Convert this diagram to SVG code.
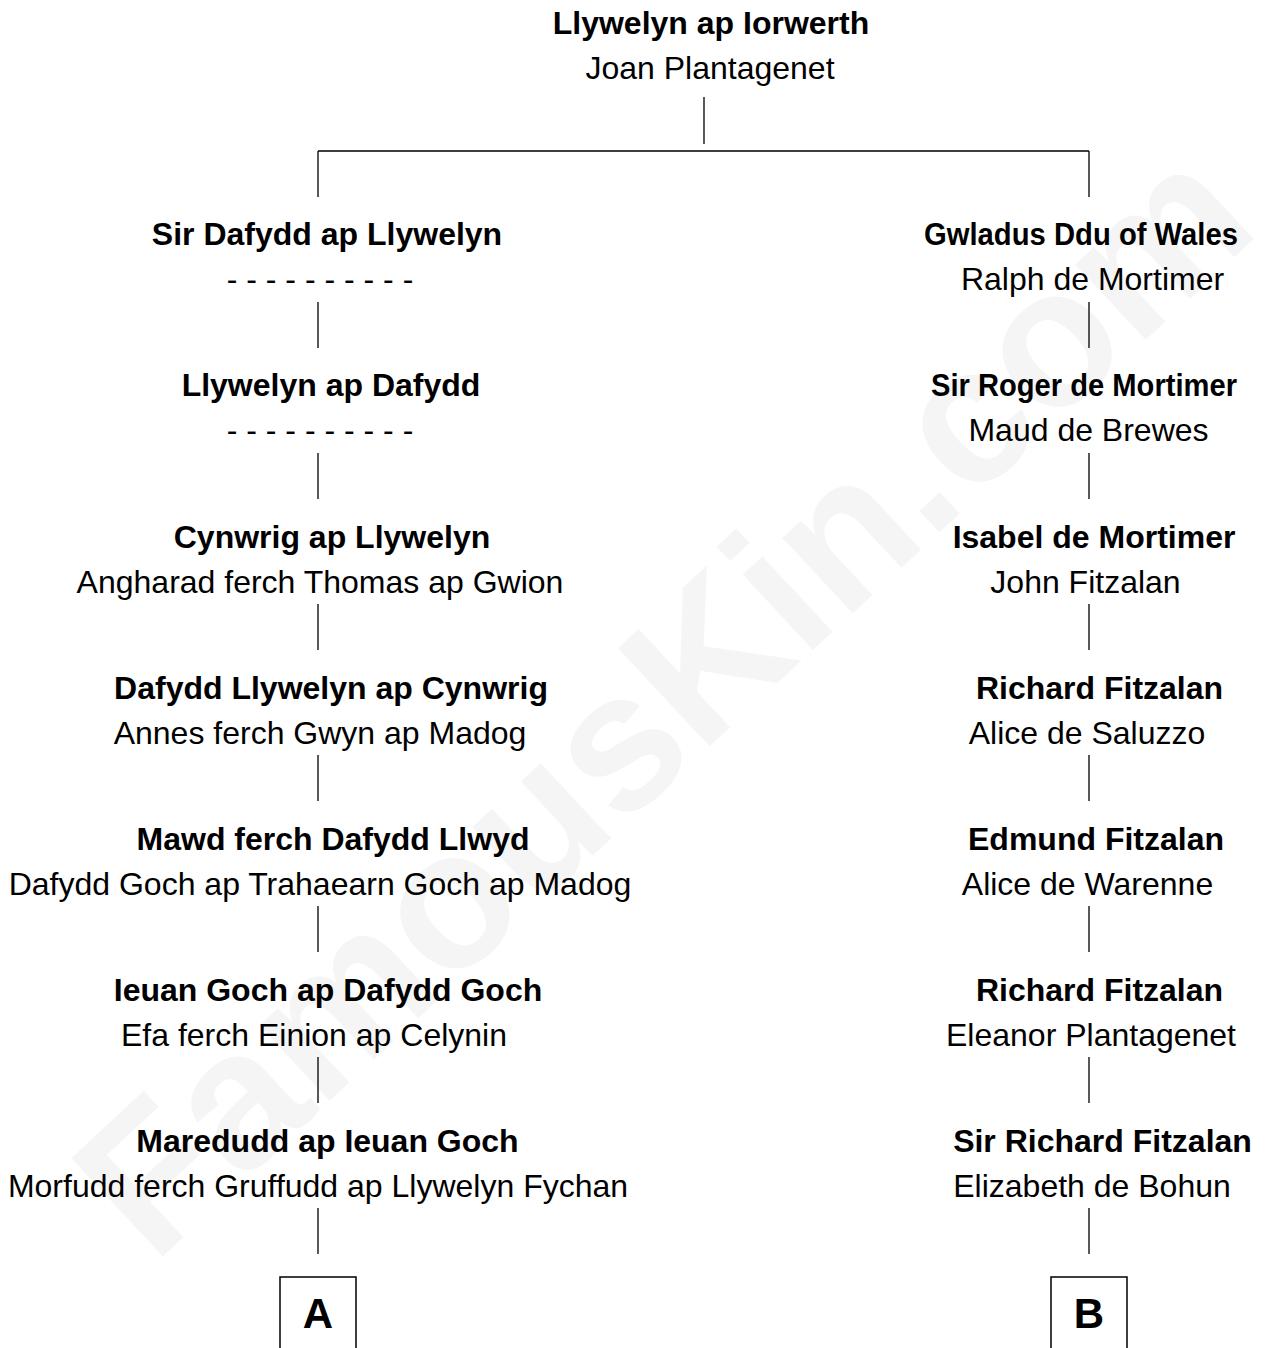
<svg xmlns="http://www.w3.org/2000/svg" width="1271" height="1348" viewBox="0 0 1271 1348">
<style>
text{font-family:"Liberation Sans",Arial,sans-serif;font-size:32px;fill:#000;text-anchor:middle}
.b{font-weight:bold}
.wm{font-weight:bold;font-size:195px;fill:#f5f5f5}
.ln{stroke:#000;stroke-width:1.3;fill:none}
.box{stroke:#000;stroke-width:1.5;fill:none}
.big{font-weight:bold;font-size:42px}
</style>
<rect width="1271" height="1348" fill="#fff"/>
<text class="wm" transform="translate(708,748) rotate(-43)" x="0" y="0">FamousKin.com</text>
<g id="connectors">
<path class="ln" d="M704,97V144M318,151H1089M318,151V197M1089,151V197"/>
<path class="ln" d="M318,302V348M318,453V499M318,604V650M318,755V801M318,906V952M318,1057V1103M318,1208V1254"/>
<path class="ln" d="M1089,302V348M1089,453V499M1089,604V650M1089,755V801M1089,906V952M1089,1057V1103M1089,1208V1254"/>
</g>
<g id="n0"><text class="b" x="711" y="34">Llywelyn ap Iorwerth</text><text x="710" y="79">Joan Plantagenet</text></g>
<g id="l1"><text class="b" x="327" y="245">Sir Dafydd ap Llywelyn</text><text x="320" y="290">- - - - - - - - - -</text></g>
<g id="l2"><text class="b" x="331" y="396">Llywelyn ap Dafydd</text><text x="320" y="441">- - - - - - - - - -</text></g>
<g id="l3"><text class="b" x="332" y="548">Cynwrig ap Llywelyn</text><text x="320" y="593">Angharad ferch Thomas ap Gwion</text></g>
<g id="l4"><text class="b" x="331" y="699">Dafydd Llywelyn ap Cynwrig</text><text x="320" y="744">Annes ferch Gwyn ap Madog</text></g>
<g id="l5"><text class="b" x="333" y="850">Mawd ferch Dafydd Llwyd</text><text x="320" y="895">Dafydd Goch ap Trahaearn Goch ap Madog</text></g>
<g id="l6"><text class="b" x="328" y="1001">Ieuan Goch ap Dafydd Goch</text><text x="314" y="1046">Efa ferch Einion ap Celynin</text></g>
<g id="l7"><text class="b" x="327.5" y="1152">Maredudd ap Ieuan Goch</text><text x="318" y="1197">Morfudd ferch Gruffudd ap Llywelyn Fychan</text></g>
<g id="r1"><text class="b" x="1081" y="245" textLength="314" lengthAdjust="spacingAndGlyphs">Gwladus Ddu of Wales</text><text x="1092.5" y="290">Ralph de Mortimer</text></g>
<g id="r2"><text class="b" x="1084" y="396" textLength="306" lengthAdjust="spacingAndGlyphs">Sir Roger de Mortimer</text><text x="1088.5" y="441">Maud de Brewes</text></g>
<g id="r3"><text class="b" x="1094" y="548">Isabel de Mortimer</text><text x="1085.5" y="593">John Fitzalan</text></g>
<g id="r4"><text class="b" x="1099.5" y="699">Richard Fitzalan</text><text x="1087" y="744">Alice de Saluzzo</text></g>
<g id="r5"><text class="b" x="1096" y="850">Edmund Fitzalan</text><text x="1087.5" y="895">Alice de Warenne</text></g>
<g id="r6"><text class="b" x="1099.5" y="1001">Richard Fitzalan</text><text x="1091" y="1046">Eleanor Plantagenet</text></g>
<g id="r7"><text class="b" x="1102.5" y="1152">Sir Richard Fitzalan</text><text x="1092" y="1197">Elizabeth de Bohun</text></g>
<g id="boxA"><rect class="box" x="280" y="1277" width="76" height="90"/><text class="big" x="318" y="1328">A</text></g>
<g id="boxB"><rect class="box" x="1051" y="1277" width="76" height="90"/><text class="big" x="1089" y="1328">B</text></g>
</svg>
